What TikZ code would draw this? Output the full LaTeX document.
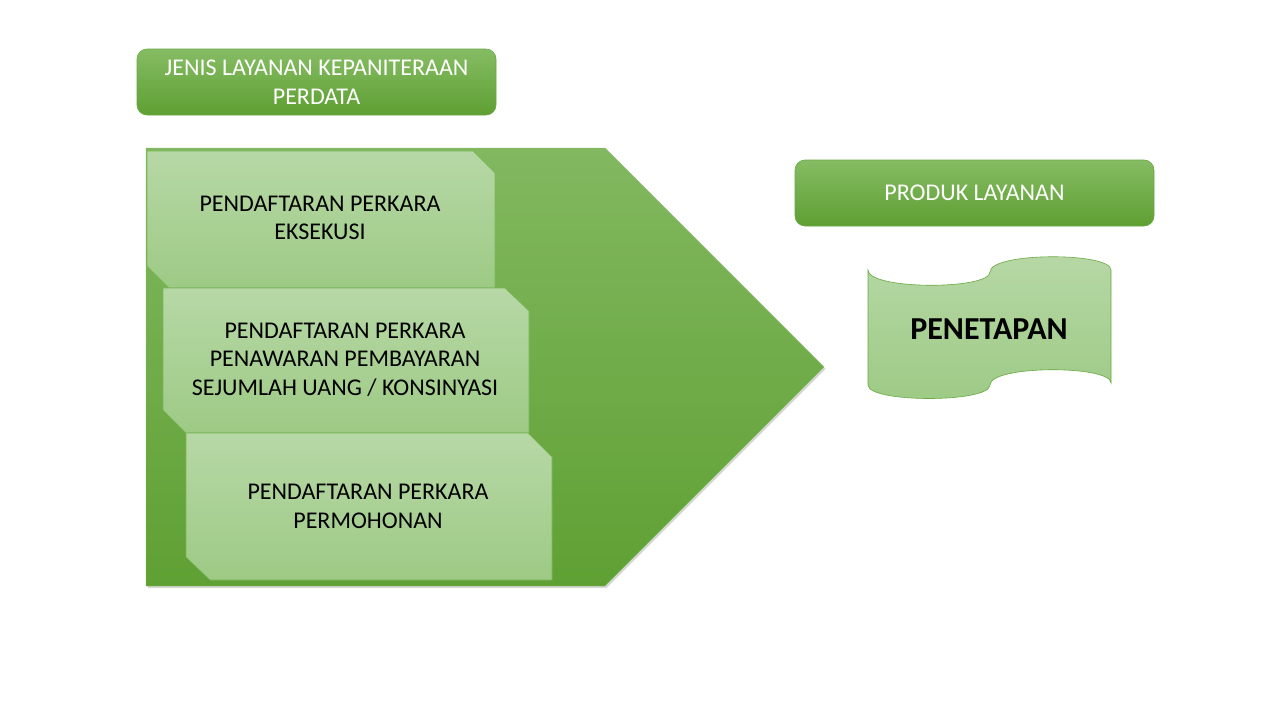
\documentclass[tikz,border=0pt]{standalone}
\usepackage{fontspec}
\setmainfont{Carlito}
\usetikzlibrary{shadows}
\definecolor{hdrtop}{HTML}{86BC64}
\definecolor{hdrbot}{HTML}{5E9F32}
\definecolor{hdrline}{HTML}{6AA943}
\definecolor{arrtop}{HTML}{82B860}
\definecolor{arrbot}{HTML}{5FA033}
\definecolor{boxtop}{HTML}{B7D8A6}
\definecolor{boxbot}{HTML}{9DCA85}
\definecolor{boxline}{HTML}{78B556}
\tikzset{
  header/.style={rounded corners=10pt, top color=hdrtop, bottom color=hdrbot, draw=hdrline, line width=0.6pt},
  hdrtext/.style={text=white, align=center, font=\fontsize{24}{29.5}\selectfont},
  snipbox/.style={top color=boxtop, bottom color=boxbot, draw=boxline, line width=0.6pt},
  boxtext/.style={text=black, align=center, font=\fontsize{24}{28.5}\selectfont},
  bigarrow/.style={top color=arrtop, bottom color=arrbot, draw=arrtop!90!white, line width=0.4pt,
    drop shadow={shadow xshift=1.5pt, shadow yshift=-2pt, opacity=0.25, fill=black!60}},
  tape/.style={top color=boxtop, bottom color=boxbot, draw=hdrline, line width=0.6pt}
}
\begin{document}
\begin{tikzpicture}[x=1pt,y=-1pt]
\useasboundingbox (0,0) rectangle (1280,720);
\fill[white] (0,0) rectangle (1280,720);

% left header
\path[header] (137,49) rectangle (496,115);
\node[hdrtext] (hdrA) at (316.5,82) {JENIS LAYANAN KEPANITERAAN\\PERDATA};

% big arrow
\path[bigarrow] (146,148) -- (605,148) -- (824,367) -- (605,586) -- (146,586) -- cycle;

% snipped boxes
\path[snipbox] (147,151) -- (473,151) -- (495,173) -- (495,288) -- (169,288) -- (147,266) -- cycle;
\node[boxtext] (boxA) at (320,218) {PENDAFTARAN PERKARA\\EKSEKUSI};

\path[snipbox] (163,288) -- (505,288) -- (529,311) -- (529,433) -- (186,433) -- (163,410) -- cycle;
\node[boxtext] (boxB) at (345,359.5) {PENDAFTARAN PERKARA\\PENAWARAN PEMBAYARAN\\SEJUMLAH UANG / KONSINYASI};

\path[snipbox] (186,433) -- (528,433) -- (552,457) -- (552,580) -- (210,580) -- (186,557) -- cycle;
\node[boxtext] (boxC) at (368,506.5) {PENDAFTARAN PERKARA\\PERMOHONAN};

% right header
\path[header] (795,160) rectangle (1154,226);
\node[hdrtext] (hdrB) at (974.5,193) {PRODUK LAYANAN};

% punched tape
\path[tape] (868,270) .. controls (868,290) and (990,290) .. (990,272)
  .. controls (990,252) and (1111,252) .. (1111,270)
  -- (1111,383) .. controls (1111,365) and (990,365) .. (990,385)
  .. controls (990,403) and (868,403) .. (868,385) -- cycle;
\node[text=black, font=\bfseries\fontsize{32}{36}\selectfont] (prod) at (989,329) {PENETAPAN};
\end{tikzpicture}
\end{document}
